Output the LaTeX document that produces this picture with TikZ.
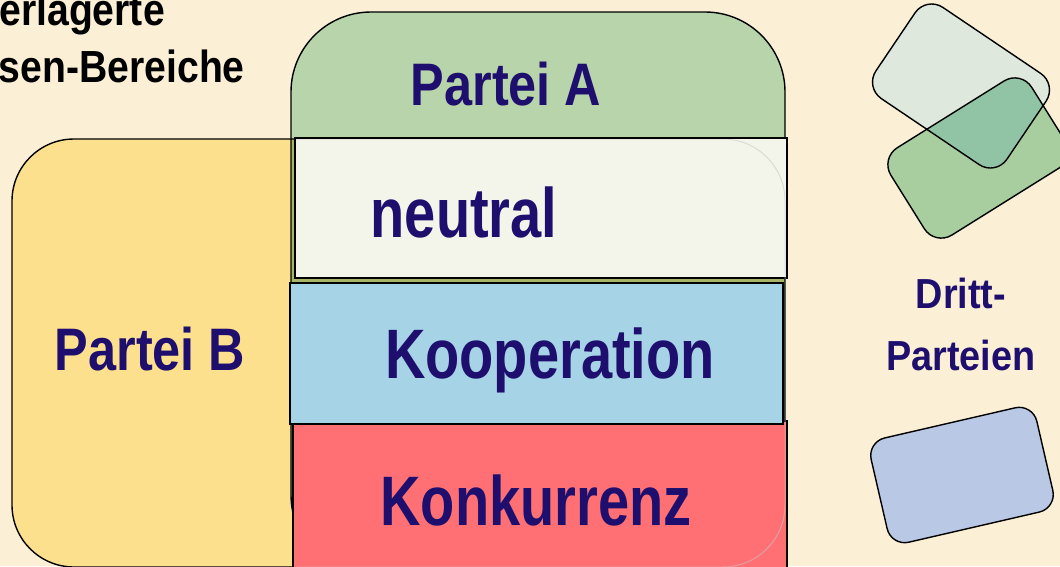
\documentclass[tikz,border=0pt]{standalone}
\usepackage{fontspec}
\setmainfont{Liberation Sans}
\newfontfamily\bigfont{Liberation Sans}[FakeStretch=0.80]
\newfontfamily\partyfont{Liberation Sans}[FakeStretch=0.84]
\newfontfamily\sidefont{Liberation Sans}[FakeStretch=0.90]
\newfontfamily\titlefont{Liberation Sans}[FakeStretch=0.87]

\definecolor{bgcream}{HTML}{FBF0D6}
\definecolor{partyA}{HTML}{B7D4AA}
\definecolor{partyB}{HTML}{FDE08E}
\definecolor{overlap}{HTML}{A8B468}
\definecolor{neutralfill}{HTML}{F3F5EA}
\definecolor{coopfill}{HTML}{A6D3E6}
\definecolor{compfill}{HTML}{FF7074}
\definecolor{labelink}{HTML}{1E0F6E}
\definecolor{cardlight}{HTML}{DEE8DC}
\definecolor{cardgreen}{HTML}{A8CEA0}
\definecolor{cardmix}{HTML}{91C4A5}
\definecolor{cardblue}{HTML}{B9C8E4}

\begin{document}
\begin{tikzpicture}[x=1pt,y=-1pt,
  outline/.style={draw=black,line width=1.4pt},
  ghost/.style={draw=gray!45,line width=1pt,opacity=0.55},
  regionA/.style={rounded corners=80pt},
  regionB/.style={rounded corners=62pt},
  cardone/.style={shift={(961,86)},rotate=-34,rounded corners=20pt},
  cardtwo/.style={shift={(978,158)},rotate=32,rounded corners=20pt},
  cardthree/.style={shift={(962,475)},rotate=13,rounded corners=18pt},
  biglabel/.style={inner sep=0pt,anchor=base,text=labelink,
    font=\bigfont\bfseries\fontsize{70}{84}\selectfont},
  partylabel/.style={inner sep=0pt,anchor=base,text=labelink,
    font=\partyfont\bfseries\fontsize{60}{72}\selectfont},
  sidelabel/.style={inner sep=0pt,anchor=base,text=labelink,align=center,
    font=\sidefont\bfseries\fontsize{42}{62}\selectfont},
  titleline/.style={inner sep=0pt,anchor=base east,text=black,
    font=\titlefont\bfseries\fontsize{45}{57}\selectfont},
]
\useasboundingbox (0,0) rectangle (1060,566);
\clip (0,0) rectangle (1060,566);
\fill[bgcream] (0,0) rectangle (1060,566);

% the two parties and their common ground
\fill[partyA,regionA] (291,12) rectangle (785,575);
\fill[partyB,regionB] (12,139) rectangle (785,567);
\begin{scope}
  \clip[regionA] (291,12) rectangle (785,575);
  \fill[overlap,regionB] (12,139) rectangle (785,567);
\end{scope}
\draw[outline,regionA] (291,12) rectangle (785,575);
\draw[outline,regionB] (12,139) rectangle (785,567);

% the three bands of the common ground
\fill[neutralfill] (295,138) rectangle (787,278);
\draw[outline] (295,138) rectangle (787,278);
\fill[compfill] (293,421) rectangle (787,572);
\draw[outline] (293,421) rectangle (787,572);
\fill[coopfill] (290,283) rectangle (783,424);
\draw[outline] (290,283) rectangle (783,424);

% faint trace of party B's border across the bands
\begin{scope}
  \clip (296,139) rectangle (786,566);
  \draw[ghost,regionB] (12,139) rectangle (785,567);
\end{scope}

% third parties
\fill[cardgreen,cardtwo] (-83,-51.5) rectangle (83,51.5);
\fill[cardlight,cardone] (-79,-55) rectangle (79,55);
\begin{scope}
  \clip[cardone] (-79,-55) rectangle (79,55);
  \fill[cardmix,cardtwo] (-83,-51.5) rectangle (83,51.5);
\end{scope}
\draw[outline,cardtwo] (-83,-51.5) rectangle (83,51.5);
\draw[outline,cardone] (-79,-55) rectangle (79,55);
\fill[cardblue,cardthree] (-85,-53.5) rectangle (85,53.5);
\draw[outline,cardthree] (-85,-53.5) rectangle (85,53.5);

% labels
\node[partylabel] (pa) at (506,105) {Partei A};
\node[partylabel] (pb) at (150,370) {Partei B};
\node[biglabel] (neu) at (464,237) {neutral};
\node[biglabel] (koop) at (550,378) {Kooperation};
\node[biglabel] (konk) at (536,525) {Konkurrenz};
\node[sidelabel] (dritt) at (961,370) {Dritt-\\Parteien};
\node[titleline] (title1) at (165,25) {Überlagerte};
\node[titleline] (title2) at (245,82) {Interessen-Bereiche};
\end{tikzpicture}
\end{document}
